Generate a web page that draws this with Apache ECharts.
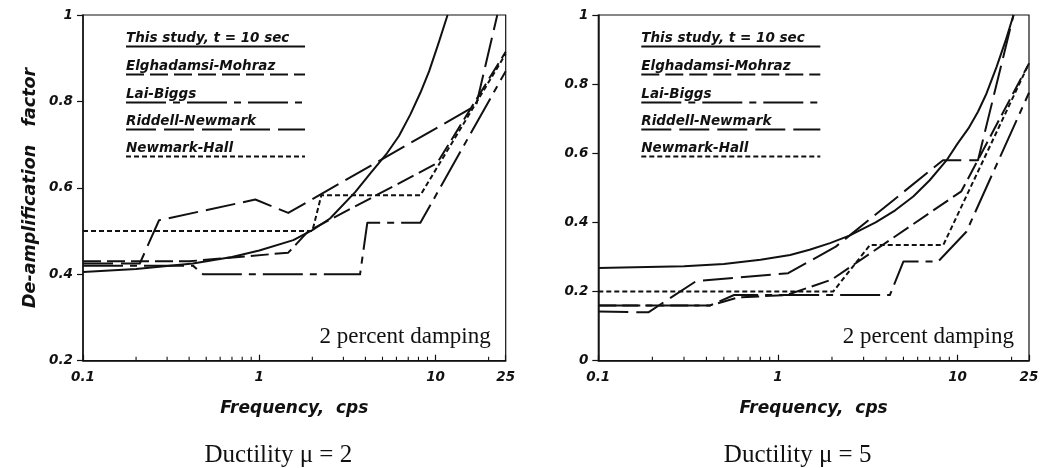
<!DOCTYPE html>
<html><head><meta charset="utf-8">
<script src="https://cdn.jsdelivr.net/npm/echarts@6/dist/echarts.min.js"></script>
<style>html,body{margin:0;padding:0;background:#fff}#c{width:1055px;height:468px}</style>
</head><body><div id="c"></div>
<script>
// ---- data ----
const seriesNames = ['This study, t = 10 sec', 'Elghadamsi-Mohraz', 'Lai-Biggs', 'Riddell-Newmark', 'Newmark-Hall'];
const xTickLabels = ['0.1', '1', '10', '25'];
const minorTickFreqs = [0.2, 0.3, 0.4, 0.5, 0.6, 0.7, 0.8, 0.9, 2, 3, 4, 5, 6, 7, 8, 9, 20];

// Ductility 2  [frequency (cps), de-amplification factor]
const studyL = [[0.1,0.405],[0.2,0.412],[0.42,0.425],[0.7,0.44],[1.0,0.455],[1.56,0.479],[2.0,0.502],[2.52,0.529],[3.5,0.59],[4.3,0.635],[5.3,0.68],[6.2,0.72],[7.2,0.77],[8.2,0.82],[9.2,0.87],[10.4,0.935],[11.7,1.0]];
const elghadamsiL = [[0.1,0.43],[0.4,0.43],[1.46,0.45],[1.9,0.5],[10.2,0.657],[25,0.915]];
const laiBiggsL = [[0.1,0.42],[0.42,0.42],[0.48,0.40],[3.73,0.40],[4.1,0.519],[8.2,0.519],[25,0.87]];
const riddellL = [[0.1,0.425],[0.21,0.425],[0.27,0.525],[0.95,0.573],[1.46,0.542],[17,0.791],[22.4,1.0]];
const newmarkHallL = [[0.1,0.5],[2.0,0.5],[2.25,0.583],[8.2,0.583],[25,0.91]];

// Ductility 5
const studyR = [[0.1,0.268],[0.3,0.273],[0.5,0.28],[0.8,0.292],[1.17,0.306],[1.5,0.321],[1.95,0.34],[2.5,0.362],[3.5,0.40],[4.5,0.435],[5.67,0.475],[7,0.522],[8.7,0.58],[10,0.628],[11.5,0.672],[13,0.72],[14.5,0.773],[16.5,0.85],[18.5,0.925],[20.5,1.0]];
const elghadamsiR = [[0.1,0.16],[0.42,0.16],[0.6,0.183],[1.12,0.19],[2.0,0.235],[10.5,0.49],[25,0.86]];
const laiBiggsR = [[0.1,0.16],[0.42,0.16],[0.57,0.19],[4.2,0.19],[5.0,0.287],[7.8,0.287],[11.2,0.373],[25,0.775]];
const riddellR = [[0.1,0.142],[0.19,0.14],[0.35,0.23],[1.14,0.253],[2.1,0.33],[8.3,0.58],[13,0.58],[20.5,1.0]];
const newmarkHallR = [[0.1,0.2],[2.03,0.2],[3.26,0.335],[8.34,0.335],[25,0.86]];

// ---- styles ----
const INK = '#111';
const dashes = ['solid', [18,6], [40,7,7,7], [30,8], [5,3]];
const sansB = {fontFamily: '"DejaVu Sans"', fontStyle: 'italic', fontWeight: 'bold'};

const panels = [
  {left: 83, width: 422.7, yMin: 0.2, data: [studyL, elghadamsiL, laiBiggsL, riddellL, newmarkHallL], caption: 'Ductility \u03bc = 2', showYName: true},
  {left: 598.3, width: 430.7, yMin: 0, data: [studyR, elghadamsiR, laiBiggsR, riddellR, newmarkHallR], caption: 'Ductility \u03bc = 5', showYName: false}
];
const TOP = 15, BOTTOM_Y = 360.7;

const grid = [], xAxis = [], yAxis = [], series = [], graphic = [];
panels.forEach((p, k) => {
  grid.push({left: p.left, width: p.width, top: TOP, height: BOTTOM_Y - TOP, show: true, borderColor: INK, borderWidth: 1.2, backgroundColor: 'transparent'});
  xAxis.push({
    type: 'log', logBase: 10, min: 0.1, max: 25, gridIndex: k,
    name: 'Frequency,  cps', nameLocation: 'middle', nameGap: 39,
    nameTextStyle: Object.assign({fontSize: 17, color: INK}, sansB),
    axisLine: {lineStyle: {color: INK, width: 1.5}},
    axisTick: {inside: true, length: 6, lineStyle: {color: INK, width: 1.2}},
    splitLine: {show: false}, minorTick: {show: false},
    axisLabel: Object.assign({fontSize: 13.5, color: INK, margin: 10, showMaxLabel: true, showMinLabel: true,
      formatter: v => { const s = String(+(+v).toPrecision(3)); return xTickLabels.indexOf(s) >= 0 ? s : ''; }}, sansB)
  });
  yAxis.push({
    type: 'value', min: p.yMin, max: 1, interval: 0.2, gridIndex: k,
    name: p.showYName ? 'De-amplification   factor' : '', nameLocation: 'middle', nameGap: 44,
    nameTextStyle: Object.assign({fontSize: 17.5, color: INK}, sansB),
    axisLine: {lineStyle: {color: INK, width: 1.5}},
    axisTick: {inside: false, length: 6, lineStyle: {color: INK, width: 1.2}},
    splitLine: {show: false},
    axisLabel: Object.assign({fontSize: 13.5, color: INK, margin: 10, formatter: v => String(+v.toFixed(2))}, sansB)
  });
  p.data.forEach((d, i) => {
    series.push({
      type: 'line', name: seriesNames[i], xAxisIndex: k, yAxisIndex: k, data: d,
      showSymbol: false, symbol: 'none', smooth: false, clip: true,
      lineStyle: {color: INK, width: 2, type: dashes[i], join: 'round'}, z: 3
    });
  });
  series.push({
    type: 'custom', xAxisIndex: k, yAxisIndex: k, silent: true, clip: false,
    data: minorTickFreqs.map(f => [f, p.yMin]),
    renderItem: (params, api) => {
      const pt = api.coord([api.value(0), api.value(1)]);
      return {type: 'line', shape: {x1: pt[0], y1: pt[1], x2: pt[0], y2: pt[1] - 4}, style: {stroke: INK, lineWidth: 1.1}};
    }
  });
  // legend (text + underline in the line style)
  const lx = p.left + 43, lw = 179;
  const rowsY = [38, 66, 94, 121, 148];
  seriesNames.forEach((nm, i) => {
    graphic.push({type: 'text', x: lx, y: rowsY[i], style: {text: nm, fill: INK, font: 'italic bold 13.5px "DejaVu Sans"', align: 'left', verticalAlign: 'middle'}});
    graphic.push({type: 'line', x: 0, y: 0, shape: {x1: lx, y1: rowsY[i] + 8.5, x2: lx + lw, y2: rowsY[i] + 8.5}, style: {stroke: INK, lineWidth: 1.8, lineDash: dashes[i] === 'solid' ? null : dashes[i]}});
  });
  graphic.push({type: 'text', x: p.left + p.width - 15, y: 348, style: {text: '2 percent damping', fill: INK, font: '23px "Liberation Serif"', align: 'right', verticalAlign: 'bottom'}});
  graphic.push({type: 'text', x: p.left + p.width / 2 - 16, y: 455, style: {text: p.caption, fill: INK, font: '25px "Liberation Serif"', align: 'center', verticalAlign: 'middle'}});
});

const chart = echarts.init(document.getElementById('c'), null, {renderer: 'canvas'});
chart.setOption({backgroundColor: '#fff', animation: false, grid, xAxis, yAxis, series, graphic});
</script></body></html>
